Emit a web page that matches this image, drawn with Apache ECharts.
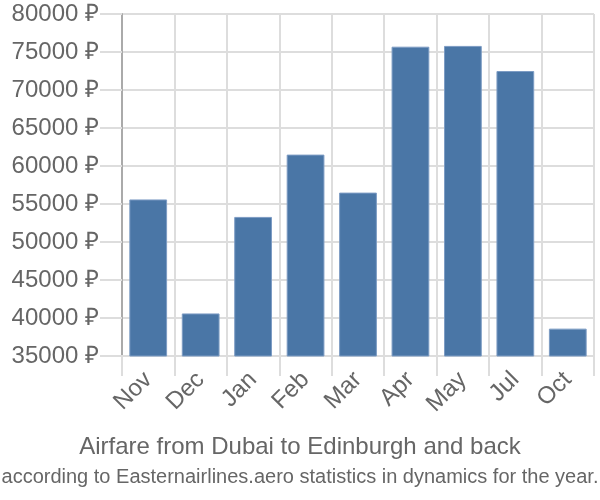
<!DOCTYPE html>
<html>
<head>
<meta charset="utf-8">
<script src="https://cdn.jsdelivr.net/npm/echarts@6/dist/echarts.min.js"></script>
<style>
  html, body { margin: 0; padding: 0; background: #fff; }
  #chart { width: 600px; height: 500px; }
</style>
</head>
<body>
<div id="chart"></div>
<script>
// months shown on the x axis
const months = ['Nov', 'Dec', 'Jan', 'Feb', 'Mar', 'Apr', 'May', 'Jul', 'Oct'];
// price in rubles
const prices = [55600, 40600, 53300, 61500, 56500, 75700, 75800, 72500, 38600];

const chart = echarts.init(document.getElementById('chart'));
const option = {
  animation: false,
  textStyle: { fontFamily: 'Liberation Sans, Arial, sans-serif' },
  title: {
    text: 'Airfare from Dubai to Edinburgh and back',
    subtext: 'according to Easternairlines.aero statistics in dynamics for the year.',
    left: 'center',
    top: 430,
    itemGap: 8,
    textStyle: { color: '#666', fontSize: 24, fontWeight: 'normal' },
    subtextStyle: { color: '#666', fontSize: 20 }
  },
  grid: {
    left: 122,
    right: 6,
    top: 14,
    bottom: 144,
    containLabel: false
  },
  xAxis: {
    type: 'category',
    data: months,
    axisLine: { lineStyle: { color: '#ddd', width: 2 } },
    axisTick: { show: true, length: 20, lineStyle: { color: '#ddd', width: 2 } },
    splitLine: { show: true, lineStyle: { color: '#ddd', width: 2 } },
    axisLabel: {
      rotate: 45,
      color: '#666',
      fontSize: 24,
      margin: 20
    }
  },
  yAxis: {
    type: 'value',
    min: 35000,
    max: 80000,
    interval: 5000,
    axisLine: { show: true, lineStyle: { color: '#aaa', width: 2 } },
    axisTick: { show: true, length: 22, lineStyle: { color: '#ddd', width: 2 } },
    splitLine: { show: true, lineStyle: { color: '#ddd', width: 2 } },
    axisLabel: {
      color: '#666',
      fontSize: 24,
      margin: 23,
      formatter: v => v + ' ₽'
    }
  },
  series: [{
    type: 'bar',
    data: prices,
    barWidth: '72%',
    itemStyle: { color: '#4a76a6', borderColor: '#7d9cc4', borderWidth: 1 }
  }]
};
chart.setOption(option);
</script>
</body>
</html>
